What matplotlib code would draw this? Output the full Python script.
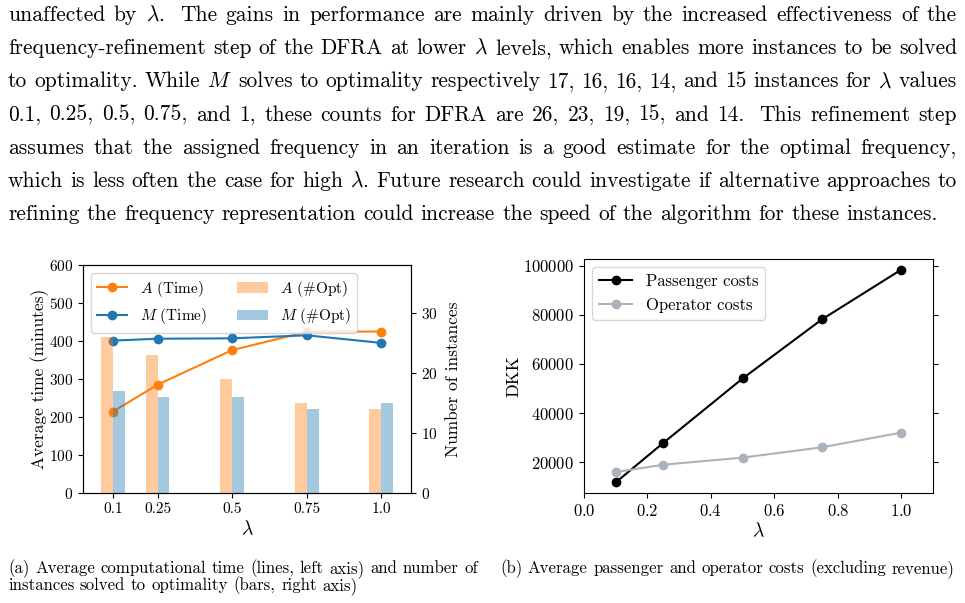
import numpy as np
import matplotlib
matplotlib.use("Agg")
import matplotlib.pyplot as plt

# Computer Modern look (matplotlib ships cmr10 + cm mathtext)
plt.rcParams['font.family'] = ['cmr10', 'DejaVu Serif']
plt.rcParams['mathtext.fontset'] = 'cm'
plt.rcParams['axes.formatter.use_mathtext'] = True
plt.rcParams['axes.unicode_minus'] = False

W, H = 965, 603

# ===================== data =====================
lam = [0.1, 0.25, 0.5, 0.75, 1.0]
lam_labels = ["0.1", "0.25", "0.5", "0.75", "1.0"]

time_A = [214, 285, 376, 424, 425]      # minutes
time_M = [401, 406, 407, 415, 395]
opt_A = [26, 23, 19, 15, 14]            # instances solved to optimality
opt_M = [17, 16, 16, 14, 15]

passenger_costs = [11700, 27800, 54100, 78200, 98500]   # DKK
operator_costs = [15900, 18900, 21800, 26000, 32000]

# double space = wider sentence gap
body_lines = [
    r"unaffected by $\lambda$.  The gains in performance are mainly driven by the increased effectiveness of the",
    r"frequency-refinement step of the DFRA at lower $\lambda$ levels, which enables more instances to be solved",
    r"to optimality. While $M$ solves to optimality respectively 17, 16, 16, 14, and 15 instances for $\lambda$ values",
    r"0.1, 0.25, 0.5, 0.75, and 1, these counts for DFRA are 26, 23, 19, 15, and 14.  This refinement step",
    r"assumes that the assigned frequency in an iteration is a good estimate for the optimal frequency,",
    r"which is less often the case for high $\lambda$. Future research could investigate if alternative approaches to",
    r"refining the frequency representation could increase the speed of the algorithm for these instances.",
]
caption_a = ["(a) Average computational time (lines, left axis) and number of",
             "instances solved to optimality (bars, right axis)"]
caption_b = "(b) Average passenger and operator costs (excluding revenue)"

fig = plt.figure(figsize=(W / 100, H / 100), dpi=100)
renderer = fig.canvas.get_renderer()


def text_width(s, size):
    t = fig.text(0, 0, s, fontsize=size)
    w = t.get_window_extent(renderer).width
    t.remove()
    return w


def put_line(s, x0, y, size, x1=None):
    # place words one by one; stretch the gaps when x1 is given (justified)
    words, weights, pending = [], [], 0.0
    for p in s.split(' '):
        if p == '':
            pending += 0.8
            continue
        if words:
            weights.append(1.0 + pending)
            pending = 0.0
        words.append(p)
    texts = [fig.text(0, 1 - y / H, w, fontsize=size, va='baseline') for w in words]
    widths = [t.get_window_extent(renderer).width for t in texts]
    if x1 is not None and len(words) > 1:
        g = (x1 - x0 - sum(widths)) / sum(weights)
    else:
        g = 0.333 * size * 100 / 72
    x = x0
    for i, (t, w) in enumerate(zip(texts, widths)):
        t.set_x(x / W)
        if i < len(weights):
            x += w + g * weights[i]


# ===================== body paragraph =====================
size_body = 15 * 929 / text_width(body_lines[-1], 15)
for i, line in enumerate(body_lines):
    y = 21 + 33.2 * i
    if i < len(body_lines) - 1:
        put_line(line, 8, y, size_body, x1=957)
    else:
        put_line(line, 8, y, size_body)

# ===================== (a) time + #opt =====================
ax1 = fig.add_axes([83 / W, 1 - 493 / H, 328 / W, 228 / H])
l1, = ax1.plot(lam, time_A, color='tab:orange', marker='o', lw=1.5, label=r'$A$ (Time)')
l2, = ax1.plot(lam, time_M, color='tab:blue', marker='o', lw=1.5, label=r'$M$ (Time)')
ax1.set_xlim(0, 1.1)
ax1.set_ylim(0, 600)
ax1.set_xticks(lam)
ax1.set_xticklabels(lam_labels)
ax1.tick_params(labelsize=11)
ax1.set_xlabel(r'$\lambda$', fontsize=14, labelpad=2)
ax1.set_ylabel('Average time (minutes)', fontsize=12.5, labelpad=0)

ax2 = ax1.twinx()
b1 = ax2.bar(np.array(lam) - 0.02, opt_A, width=0.04, color='tab:orange', alpha=0.4, label=r'$A$ (#Opt)')
b2 = ax2.bar(np.array(lam) + 0.02, opt_M, width=0.04, color='tab:blue', alpha=0.4, label=r'$M$ (#Opt)')
ax2.set_ylim(0, 38)
ax2.set_yticks([0, 10, 20, 30])
ax2.tick_params(labelsize=11)
ax2.set_ylabel('Number of instances', fontsize=12.5, labelpad=6)
ax2.legend(handles=[l1, l2, b1, b2], loc='upper left', ncol=2, fontsize=11)

# ===================== (b) costs =====================
ax3 = fig.add_axes([584 / W, 1 - 493 / H, 349 / W, 234 / H])
ax3.plot(lam, passenger_costs, color='black', marker='o', lw=1.5, label='Passenger costs')
ax3.plot(lam, operator_costs, color='#aab2bb', marker='o', lw=1.5, label='Operator costs')
ax3.set_xlim(0, 1.1)
ax3.tick_params(labelsize=12)
ax3.tick_params(axis='y', right=True)
ax3.set_xlabel(r'$\lambda$', fontsize=14, labelpad=2)
ax3.set_ylabel('DKK', fontsize=13, labelpad=1)
ax3.legend(loc='upper left', fontsize=12)

# ===================== captions =====================
size_cap = 11 * 455 / text_width(caption_b, 11)
put_line(caption_a[0], 8, 573, size_cap, x1=478)
put_line(caption_a[1], 8, 590, size_cap)
put_line(caption_b, 500, 573, size_cap)

fig.savefig("out.png", dpi=100)
